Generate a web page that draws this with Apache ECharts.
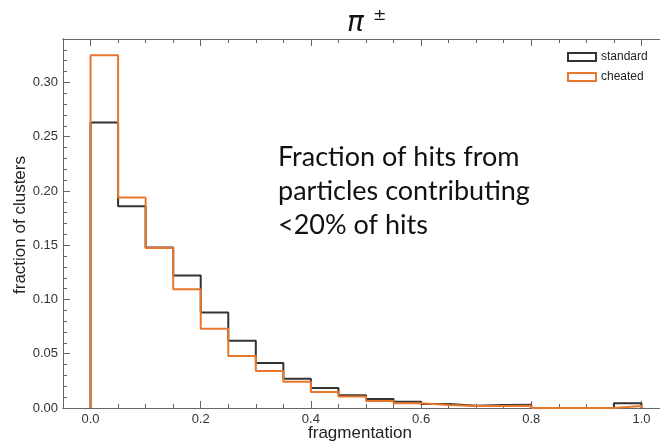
<!DOCTYPE html>
<html>
<head>
<meta charset="utf-8">
<script src="https://cdn.jsdelivr.net/npm/echarts@6/dist/echarts.min.js"></script>
<style>
    html, body { margin: 0; padding: 0; background: #fff; }
    #main { width: 660px; height: 444px; }
</style>
</head>
<body>
<div id="main"></div>
<script>
// bin left edges (bin width 0.05)
var binStart = [0.00, 0.05, 0.10, 0.15, 0.20, 0.25, 0.30, 0.35, 0.40, 0.45,
                0.50, 0.55, 0.60, 0.65, 0.70, 0.75, 0.80, 0.85, 0.90, 0.95];
var binWidth = 0.05;
// fraction of clusters per bin
var standard = [0.263, 0.186, 0.148, 0.122, 0.088, 0.062, 0.0415, 0.027, 0.0185, 0.0117,
                0.0083, 0.0058, 0.0037, 0.0021, 0.0028, 0.003, 0, 0, 0, 0.0043];
var cheated = [0.325, 0.194, 0.1475, 0.1095, 0.073, 0.048, 0.034, 0.0243, 0.0148, 0.0105,
               0.0065, 0.0043, 0.0028, 0.0018, 0.0018, 0.002, 0, 0, 0, 0.0018];
// tick labels
var xLabels = [0.0, 0.2, 0.4, 0.6, 0.8, 1.0];
var yLabels = [0.00, 0.05, 0.10, 0.15, 0.20, 0.25, 0.30];

var noteLines = ['Fraction of hits from', 'particles contributing', '<20% of hits'];

// turn bins into points for a step line
function stepData(vals) {
    var pts = [[binStart[0], 0]];
    for (var i = 0; i < vals.length; i++) {
        pts.push([binStart[i], vals[i]]);
    }
    var last = binStart[binStart.length - 1] + binWidth;
    pts.push([last, vals[vals.length - 1]]);
    pts.push([last, 0]);
    return pts;
}

var axisColor = '#666';
var font = '"Liberation Sans", Arial, sans-serif';

function xAxisOf(pos, major, showLabel) {
    var a = {
        type: 'value', position: pos, min: -0.05, max: 1.05,
        axisLine: { show: true, onZero: false, lineStyle: { color: axisColor, width: 1 } },
        splitLine: { show: false },
        axisTick: { show: true, inside: true, length: major ? 7 : 4, lineStyle: { color: axisColor } },
        axisLabel: { show: false }
    };
    if (major) {
        a.axisTick.customValues = xLabels;
        a.axisLabel = {
            show: showLabel, customValues: xLabels, margin: 5,
            color: '#333', fontSize: 13, fontFamily: font,
            formatter: function (v) { return v.toFixed(1); }
        };
    } else {
        a.interval = 0.05;
    }
    return a;
}

function yAxisOf(pos, major, showLabel) {
    var a = {
        type: 'value', position: pos, min: 0, max: 0.34,
        axisLine: { show: true, onZero: false, lineStyle: { color: axisColor, width: 1 } },
        splitLine: { show: false },
        axisTick: { show: true, inside: true, length: major ? 7 : 4, lineStyle: { color: axisColor } },
        axisLabel: { show: false }
    };
    if (major) {
        a.axisTick.customValues = yLabels;
        a.axisLabel = {
            show: showLabel, customValues: yLabels, margin: 5,
            color: '#333', fontSize: 13, fontFamily: font,
            formatter: function (v) { return v.toFixed(2); }
        };
    } else {
        a.interval = 0.01;
    }
    return a;
}

var myChart = echarts.init(document.getElementById('main'));

var option = {
    animation: false,
    backgroundColor: '#fff',
    grid: { left: 63, top: 39, width: 606, height: 369, outerBoundsMode: 'none', containLabel: false },
    xAxis: [
        xAxisOf('bottom', false, false),
        xAxisOf('bottom', true, true),
        xAxisOf('top', false, false),
        xAxisOf('top', true, false)
    ],
    yAxis: [
        yAxisOf('left', false, false),
        yAxisOf('left', true, true),
        yAxisOf('right', false, false),
        yAxisOf('right', true, false)
    ],
    legend: {
        left: 562, top: 46, orient: 'vertical',
        itemWidth: 28, itemHeight: 8, itemGap: 8,
        textStyle: { color: '#222', fontSize: 12, fontFamily: font },
        data: [
            { name: 'standard', icon: 'rect', itemStyle: { color: 'rgba(0,0,0,0)', borderColor: '#333', borderWidth: 2 } },
            { name: 'cheated', icon: 'rect', itemStyle: { color: 'rgba(0,0,0,0)', borderColor: '#e8772e', borderWidth: 2 } }
        ]
    },
    graphic: [
        { type: 'text', left: 347, top: 10, style: { text: 'π', font: 'italic 28px "DejaVu Sans", sans-serif', fill: '#111' } },
        { type: 'text', left: 373, top: 8, style: { text: '±', font: '16px "DejaVu Sans", sans-serif', fill: '#111' } },
        { type: 'text', left: 278, top: 140, style: { text: noteLines.join('\n'), font: '27px Lato, "Open Sans", sans-serif', lineHeight: 34, fill: '#111' } },
        { type: 'text', x: 360, y: 433, style: { text: 'fragmentation', font: '17px ' + font, fill: '#222', align: 'center', verticalAlign: 'middle' } },
        { type: 'text', x: 20, y: 225, rotation: Math.PI / 2, style: { text: 'fraction of clusters', font: '17px ' + font, fill: '#222', align: 'center', verticalAlign: 'middle' } }
    ],
    series: [
        {
            name: 'standard', type: 'line', step: 'end', showSymbol: false, symbol: 'none',
            xAxisIndex: 0, yAxisIndex: 0,
            color: '#333',
            lineStyle: { color: '#333', width: 2 },
            data: stepData(standard)
        },
        {
            name: 'cheated', type: 'line', step: 'end', showSymbol: false, symbol: 'none',
            xAxisIndex: 0, yAxisIndex: 0,
            color: '#e8772e',
            lineStyle: { color: '#e8772e', width: 2 },
            data: stepData(cheated)
        }
    ]
};
myChart.setOption(option);
</script>
</body>
</html>
